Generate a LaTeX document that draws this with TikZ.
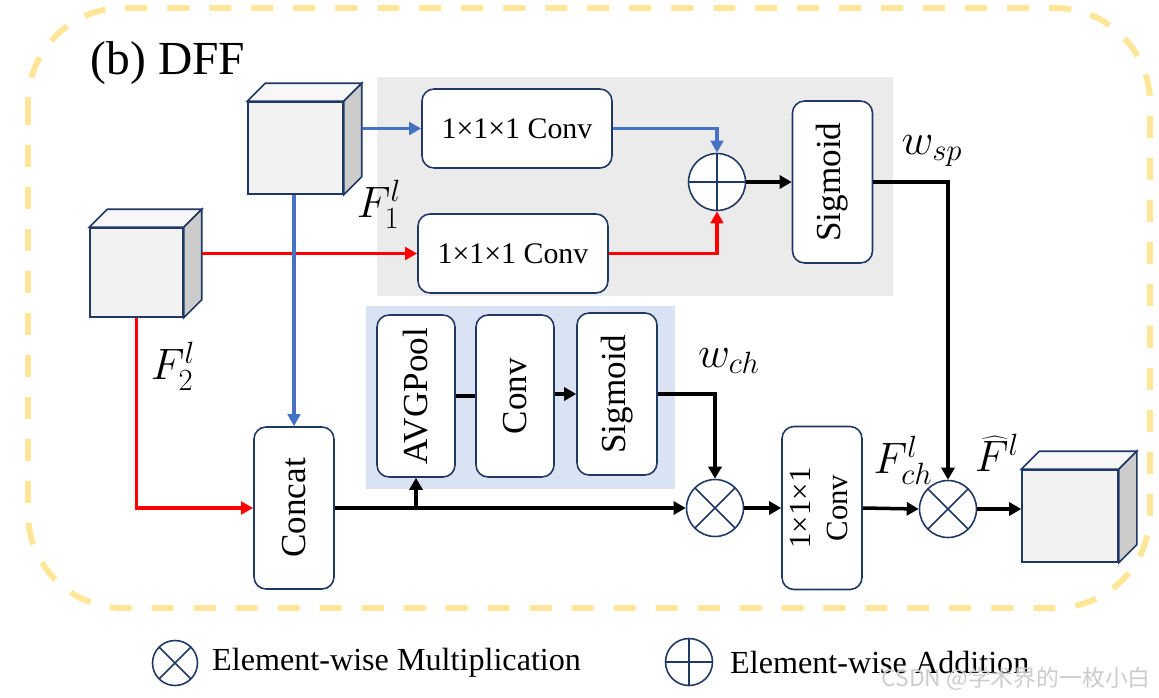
\RequirePackage{fix-cm}
\documentclass[tikz,border=0pt]{standalone}
\usepackage{fontspec}
\setmainfont{Liberation Serif}
\newfontfamily\cjk{Noto Sans CJK SC}
\usetikzlibrary{calc,arrows.meta}

\definecolor{navy}{HTML}{203864}
\definecolor{frameyel}{HTML}{FFE699}
\definecolor{bggray}{HTML}{EBEBEB}
\definecolor{bgblue}{HTML}{DAE3F3}
\definecolor{lblue}{HTML}{4472C4}
\definecolor{cubefront}{HTML}{F2F2F2}
\definecolor{cubeside}{HTML}{CCCCCC}

\tikzset{
	blk/.style={draw=navy, line width=0.9pt, rounded corners=0.24cm, fill=white, align=center, inner sep=0pt},
	hbox/.style={blk, minimum width=3.8cm, minimum height=1.58cm, font=\fontsize{17}{20}\selectfont},
	vbox/.style={blk, minimum width=1.6cm, minimum height=3.24cm, font=\fontsize{20}{21}\selectfont},
	opnode/.style={circle, draw=navy, line width=0.9pt, fill=white, minimum size=1.14cm, inner sep=0pt},
	mulnode/.style={opnode, path picture={\draw[navy, line width=0.9pt] (path picture bounding box.north west) -- (path picture bounding box.south east) (path picture bounding box.north east) -- (path picture bounding box.south west);}},
	addnode/.style={opnode, path picture={\draw[navy, line width=0.9pt] (path picture bounding box.north) -- (path picture bounding box.south) (path picture bounding box.west) -- (path picture bounding box.east);}},
	cubeface/.style={draw=navy, line width=0.9pt, inner sep=0pt},
	lbl/.style={font=\fontsize{25}{28}\selectfont, inner sep=0pt},
	blkline/.style={line width=2pt},
	blkarr/.style={blkline, -{Triangle[length=0.24cm,width=0.26cm]}},
	bluearr/.style={lblue, line width=2.1pt, -{Triangle[length=0.24cm,width=0.25cm]}},
	redarr/.style={red, line width=2.1pt, -{Triangle[length=0.24cm,width=0.25cm]}}
}

% feature cube: name, centre of front face, width, height
\newcommand\featcube[4]{%
	\node[cubeface, fill=cubefront, minimum width=#3, minimum height=#4] (#1) at (#2) {};
	\draw[cubeface, fill=cubefront!60!white] (#1.north west) -- ++(18,-18) -- ($(#1.north east)+(18,-18)$) -- (#1.north east) -- cycle;
	\draw[cubeface, fill=cubeside] (#1.north east) -- ++(18,-18) -- ($(#1.south east)+(18,-18)$) -- (#1.south east) -- cycle;
	\coordinate (#1 side) at ($(#1.east)+(18,0)$);
}

\begin{document}
\begin{tikzpicture}[x=0.02cm, y=-0.02cm]
	\useasboundingbox (0,0) rectangle (1159,697);
	
	\draw[frameyel, line width=3.4pt, dash pattern=on 0.44cm off 0.4cm, rounded corners=1.9cm] (28,8) rectangle (1150,608);
	\node[font=\fontsize{27}{30}\selectfont] (title) at (168,63) {(b) DFF};
	
	\fill[bggray] (377,77) rectangle (893,296);
	\fill[bgblue] (366,306) rectangle (675,489);
	
	\featcube{f1}{295.5,148}{1.9cm}{1.84cm}
	\featcube{f2}{136.5,272.5}{1.86cm}{1.78cm}
	\featcube{out}{1070,516}{1.92cm}{1.84cm}
	
	% spatial branch
	\node[hbox] (c1) at (517,128.5) {1×1×1 Conv};
	\node[hbox] (c2) at (513,253.5) {1×1×1 Conv};
	\node[addnode] (add) at (717,182) {};
	\node[vbox] (sig1) at (832.5,182) {\rotatebox{90}{Sigmoid}};
	
	% channel branch
	\node[vbox] (concat) at (294,508) {\rotatebox{90}{Concat}};
	\node[vbox, minimum width=1.56cm] (avg) at (416,396) {\rotatebox{90}{AVGPool}};
	\node[vbox, minimum width=1.56cm] (conv) at (515,396) {\rotatebox{90}{Conv}};
	\node[vbox] (sig2) at (617,394) {\rotatebox{90}{Sigmoid}};
	\node[mulnode] (mul1) at (715,508) {};
	\node[vbox, font=\fontsize{17.5}{21}\selectfont, minimum height=3.26cm] (conv3) at (822,508) {\rotatebox{90}{\begin{tabular}{@{}c@{}}1×1×1\\Conv\end{tabular}}};
	\node[mulnode] (mul2) at (948,509) {};
	
	\node[lbl] (lf1) at (379,204) {$F_1^l$};
	\node[lbl] (lf2) at (173,366) {$F_2^l$};
	\node[lbl] (lwsp) at (932,151) {$w_{sp}$};
	\node[lbl] (lwch) at (729,361) {$w_{ch}$};
	\node[lbl] (lfch) at (903,460) {$F_{ch}^l$};
	\node[lbl] (lfhat) at (997,453) {$\widehat{F}^l$};
	
	\draw[redarr] (f2 side |- c2.west) -- (c2.west);
	\draw[redarr] (c2.east) -| (add.south);
	\draw[redarr] (f2.south) |- (concat.west);
	\draw[bluearr] (f1 side |- c1.west) -- (c1.west);
	\draw[bluearr] (c1.east) -| (add.north);
	\draw[bluearr] (concat.north |- f1.south) -- (concat.north);
	
	\draw[blkarr] (add.east) -- (sig1.west);
	\draw[blkarr] (sig1.east) -| (mul2.north);
	\draw[blkarr] (concat.east) -- (mul1.west);
	\draw[blkarr] (avg.south |- concat.east) -- (avg.south);
	\draw[blkline] (avg.east) -- (conv.west);
	\draw[blkarr] (conv.east |- sig2.west) -- (sig2.west);
	\draw[blkarr] (sig2.east) -| (mul1.north);
	\draw[blkarr] (mul1.east) -- (conv3.west);
	\draw[blkarr] (conv3.east) -- (mul2.west);
	\draw[blkarr] (mul2.east) -- (mul2.east -| out.west);
	
	% legend
	\node[mulnode, minimum size=0.9cm] (lgmul) at (175,663) {};
	\node[anchor=west, font=\fontsize{18.3}{20}\selectfont] (lgmultxt) at (206,663) {Element-wise Multiplication};
	\node[addnode, minimum size=0.94cm] (lgadd) at (689,662) {};
	\node[anchor=west, font=\fontsize{18.3}{20}\selectfont] (lgaddtxt) at (724,662) {Element-wise Addition};
	\node[anchor=east, text=gray!40, font=\cjk\fontsize{13}{15}\selectfont] (wm) at (1157,679) {CSDN @学术界的一枚小白};
\end{tikzpicture}
\end{document}
